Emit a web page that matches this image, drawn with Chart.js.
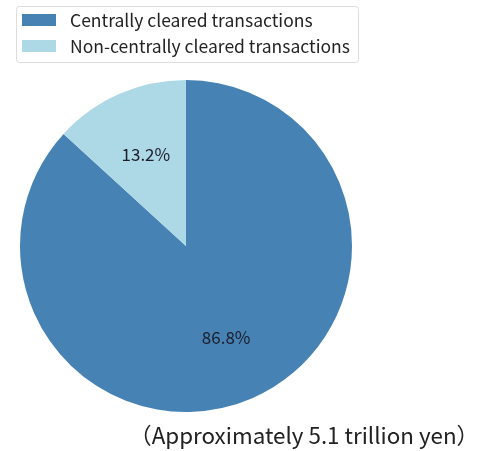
<!DOCTYPE html>
<html>
<head>
<meta charset="utf-8">
<script src="https://cdn.jsdelivr.net/npm/chart.js@4"></script>
<style>
  body { margin: 0; background: #fff; }
  #wrap { position: relative; width: 487px; height: 451px; }
</style>
</head>
<body>
<div id="wrap"><canvas id="pie" width="487" height="451"></canvas></div>
<script>
// data
const categories = ['Centrally cleared transactions', 'Non-centrally cleared transactions'];
const shares = [86.8, 13.2];
const colors = ['#4682b4', '#add8e6'];
const caption = '（Approximately 5.1 trillion yen）';

// pick a font size so a string spans the given width
function fitFont(ctx, text, family, width) {
  ctx.font = '20px ' + family;
  return 20 * width / ctx.measureText(text).width;
}

// legend box + caption, drawn by hand
const extras = {
  id: 'extras',
  afterDraw(chart) {
    const ctx = chart.ctx;
    const fam = '"Noto Sans CJK JP", "Noto Sans", sans-serif';
    ctx.save();
    // legend
    ctx.strokeStyle = '#dddddd';
    ctx.lineWidth = 1;
    ctx.beginPath();
    ctx.roundRect(16.5, 6.5, 342, 56, 3);
    ctx.fillStyle = '#fff';
    ctx.fill();
    ctx.stroke();
    const ls = fitFont(ctx, categories[1], fam, 280);
    ctx.font = ls + 'px ' + fam;
    ctx.textBaseline = 'middle';
    categories.forEach((c, i) => {
      ctx.fillStyle = colors[i];
      ctx.fillRect(22, 14 + i * 26, 34, 12);
      ctx.fillStyle = '#222';
      ctx.fillText(c, 70, 20 + i * 26);
    });
    // percent labels
    const arcs = chart.getDatasetMeta(0).data;
    ctx.textAlign = 'center';
    ctx.fillStyle = '#1c1c2a';
    ctx.font = '17px ' + fam;
    arcs.forEach((a, i) => {
      const mid = (a.startAngle + a.endAngle) / 2;
      const r = a.outerRadius * 0.6;
      ctx.fillText(shares[i].toFixed(1) + '%', a.x + Math.cos(mid) * r, a.y + Math.sin(mid) * r);
    });
    // caption
    const cs = fitFont(ctx, caption, fam, 350);
    ctx.font = cs + 'px ' + fam;
    ctx.textAlign = 'right';
    ctx.textBaseline = 'alphabetic';
    ctx.fillStyle = '#222';
    ctx.fillText(caption, 479, 444);
    ctx.restore();
  }
};

let pie = new Chart(document.getElementById('pie'), {
  type: 'pie',
  data: {
    labels: categories,
    datasets: [{
      data: shares,
      backgroundColor: colors,
      borderWidth: 0
    }]
  },
  options: {
    responsive: false,
    animation: false,
    layout: { padding: { left: 20, right: 135, top: 80, bottom: 39 } },
    plugins: { legend: { display: false }, tooltip: { enabled: false } }
  },
  plugins: [extras]
});
</script>
</body>
</html>
